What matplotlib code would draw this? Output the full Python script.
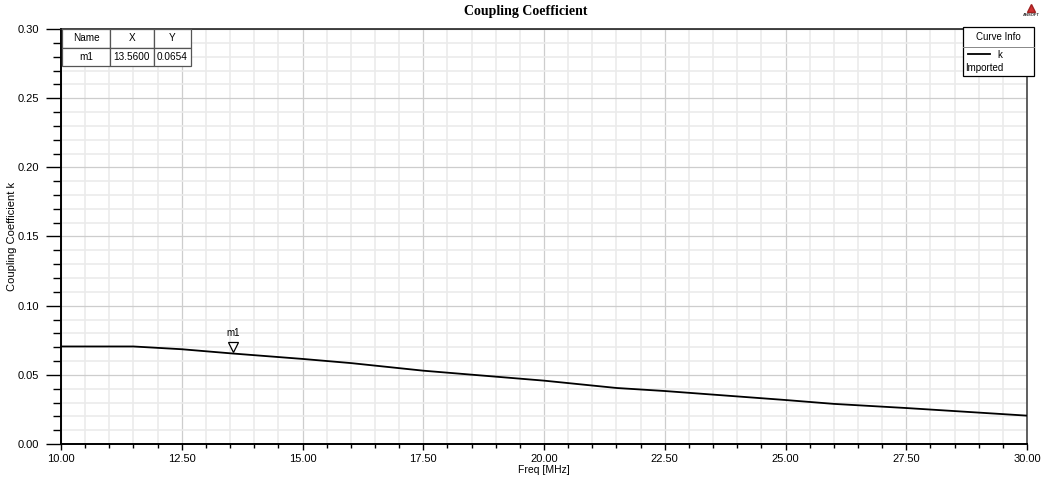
import numpy as np
import matplotlib.pyplot as plt
import matplotlib.transforms as mtransforms
from matplotlib.ticker import MultipleLocator, FormatStrFormatter

# curve k (imported), read at the kinks of the curve
freq = [10.0, 11.5, 12.5, 13.56, 15.0, 16.0, 17.5, 20.0, 21.5, 22.5, 25.0, 26.0, 27.5, 30.0]
k = [0.0705, 0.0705, 0.0685, 0.0654, 0.0615, 0.0585, 0.0530, 0.0458, 0.0405, 0.0383, 0.0318, 0.0290, 0.0260, 0.0205]

marker_name = "m1"
marker_x = 13.56
marker_y = 0.0654

plt.rcParams['font.family'] = ['Liberation Sans', 'DejaVu Sans']

W, H = 1051, 479
fig = plt.figure(figsize=(W / 100, H / 100), dpi=100)
ax = fig.add_axes([61 / W, 1 - 444 / H, (1027 - 61) / W, (444 - 29) / H])

ax.plot(freq, k, color='black', lw=1.3, zorder=3)

ax.set_xlim(10, 30)
ax.set_ylim(0, 0.30)
ax.xaxis.set_major_locator(MultipleLocator(2.5))
ax.xaxis.set_minor_locator(MultipleLocator(0.5))
ax.yaxis.set_major_locator(MultipleLocator(0.05))
ax.yaxis.set_minor_locator(MultipleLocator(0.01))
ax.xaxis.set_major_formatter(FormatStrFormatter('%.2f'))
ax.yaxis.set_major_formatter(FormatStrFormatter('%.2f'))

ax.grid(which='minor', color='#ebebeb', lw=1.2, zorder=0)
ax.grid(which='major', color='#cdcdcd', lw=0.9, zorder=0)
ax.set_axisbelow(True)

ax.tick_params(axis='y', which='major', direction='out', length=11, width=1.0, labelsize=8, pad=5)
ax.tick_params(axis='y', which='minor', direction='out', length=6, width=1.0)
ax.tick_params(axis='x', which='major', direction='out', length=4, width=1.0, labelsize=8, pad=3)
ax.tick_params(axis='x', which='minor', direction='out', length=3, width=1.0)

for s in ['left', 'bottom']:
    ax.spines[s].set_linewidth(1.4)
    ax.spines[s].set_color('black')
ax.spines['top'].set_linewidth(1.2)
ax.spines['top'].set_color('#222222')
ax.spines['right'].set_linewidth(1.2)
ax.spines['right'].set_color('#444444')

ax.set_xlabel('Freq [MHz]', fontsize=7.5, labelpad=1)
ax.set_ylabel('Coupling Coefficient k', fontsize=8, labelpad=0)
fig.text(0.5, 1 - 12 / H, 'Coupling Coefficient', ha='center', va='center',
         fontsize=10, fontweight='bold', family=['Liberation Serif', 'DejaVu Serif'])

# marker m1: open triangle sitting just above the curve point
lift = mtransforms.ScaledTranslation(0, 5 / 72, fig.dpi_scale_trans)
ax.plot([marker_x], [marker_y], marker='v', ms=7, mfc='white', mec='black', mew=0.9,
        linestyle='none', zorder=4, transform=ax.transData + lift)
ax.annotate(marker_name, (marker_x, marker_y), xytext=(0, 11), textcoords='offset points',
            ha='center', va='bottom', fontsize=7)

# marker table
cols = ['Name', 'X', 'Y']
row = [marker_name, '%.4f' % marker_x, '%.4f' % marker_y]
tbl = ax.table(cellText=[row], colLabels=cols, cellLoc='center',
               bbox=[(62 - 61) / 966, 1 - (66 - 29) / 415, (191 - 62) / 966, (66 - 29) / 415],
               colWidths=[48, 44, 37])
tbl.auto_set_font_size(False)
tbl.set_fontsize(7.2)
for (r, c), cell in tbl.get_celld().items():
    cell.set_edgecolor('#555555')
    cell.set_linewidth(0.9)
    cell.set_facecolor('white')
    cell.PAD = 0.02
tbl.set_zorder(5)

# curve info box
lx0, ly0, lx1, ly1 = 963 / W, 1 - 76 / H, 1034 / W, 1 - 27 / H
fig.patches.append(plt.Rectangle((lx0, ly0), lx1 - lx0, ly1 - ly0, transform=fig.transFigure,
                                 fc='white', ec='black', lw=0.9, zorder=5))
fig.add_artist(plt.Line2D([lx0, lx1], [1 - 47 / H] * 2, color='#888888', lw=0.7, zorder=6))
fig.text((lx0 + lx1) / 2, 1 - 37 / H, 'Curve Info', ha='center', va='center', fontsize=7, zorder=6)
fig.add_artist(plt.Line2D([968 / W, 990 / W], [1 - 54 / H] * 2, color='black', lw=1.3, zorder=6))
fig.text(997 / W, 1 - 55 / H, 'k', ha='left', va='center', fontsize=7, zorder=6)
fig.text(965 / W, 1 - 68 / H, 'Imported', ha='left', va='center', fontsize=7, zorder=6)

# small logo
fig.add_artist(plt.Line2D([1031 / W], [1 - 8 / H], marker='^', ms=6, color='#d03030', mec='#a02020', lw=0))
fig.text(1031 / W, 1 - 15 / H, 'ANSOFT', ha='center', va='center', fontsize=3, fontweight='bold', color='#333333')

fig.savefig('out.png', dpi=100)
